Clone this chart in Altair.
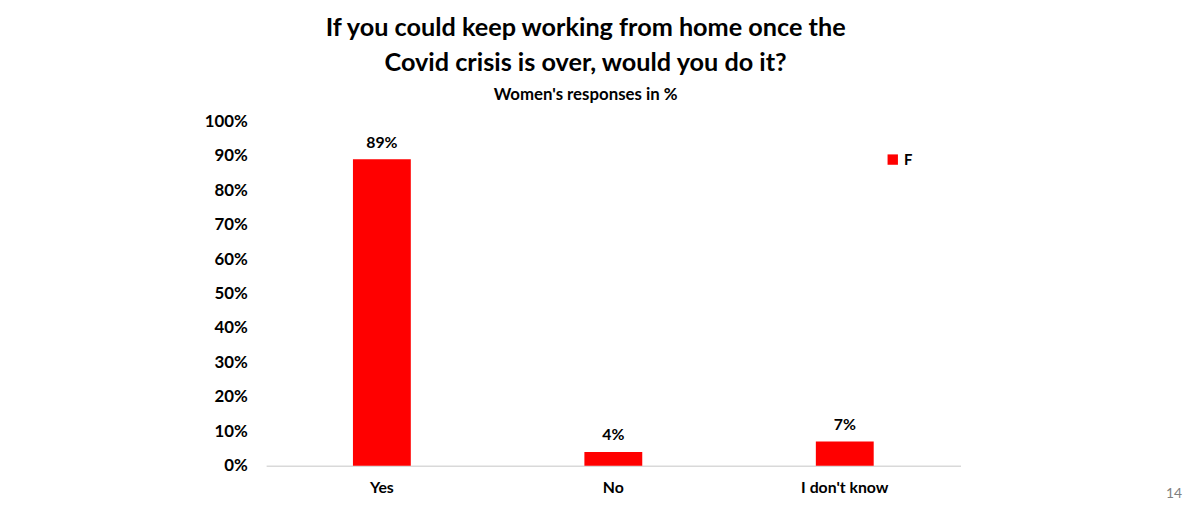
import altair as alt
import pandas as pd

categories = ["Yes", "No", "I don't know"]
values = [89, 4, 7]
series = ["F", "F", "F"]
labels = ["89%", "4%", "7%"]
y_ticks = [0, 10, 20, 30, 40, 50, 60, 70, 80, 90, 100]

df = pd.DataFrame({"answer": categories, "pct": values, "series": series, "label": labels})

FONT = "Lato"

base = alt.Chart(df).encode(
    x=alt.X("answer:N", sort=categories, title=None,
            scale=alt.Scale(paddingInner=0.75, paddingOuter=0.375),
            axis=alt.Axis(labelAngle=0, labelFontSize=16, labelFontWeight="bold",
                          labelColor="#000000", labelPadding=14, ticks=False,
                          domainColor="#d9d9d9", domainWidth=1.5, labelFont=FONT)),
    y=alt.Y("pct:Q", title=None,
            scale=alt.Scale(domain=[0, 100]),
            axis=alt.Axis(values=y_ticks, labelExpr="datum.value + '%'",
                          grid=False, domain=False, ticks=False, labelPadding=19,
                          labelOverlap=False, labelSeparation=0,
                          labelFontSize=17, labelFontWeight="bold", labelColor="#000000",
                          labelFont=FONT)),
)

bars = base.mark_bar(color="#ff0000").encode(
    color=alt.Color("series:N", scale=alt.Scale(range=["#ff0000"]),
                    legend=alt.Legend(title=None, orient="none", legendX=626, legendY=31,
                                      symbolType="square", symbolSize=110,
                                      labelFontSize=15, labelFontWeight="bold",
                                      labelColor="#000000", labelFont=FONT,
                                      symbolStrokeWidth=0)),
)

text = base.mark_text(baseline="bottom", dy=-9, fontSize=16, fontWeight="bold",
                      font=FONT, color="#000000").encode(
    text="label:N",
)

page_num = pd.DataFrame({"t": ["14"]})
pnum = alt.Chart(page_num).mark_text(fontSize=14, color="#7f7f7f", font=FONT,
                                      align="right", baseline="middle").encode(
    x=alt.value(926), y=alt.value(377), text="t:N")

chart = alt.layer(bars, text, pnum).properties(
    width=702, height=348,
    padding={"left": 198, "top": 5, "right": 5, "bottom": 5},
    title=alt.TitleParams(
        text=["If you could keep working from home once the", "Covid crisis is over, would you do it?"],
        subtitle="Women's responses in %",
        fontSize=25.5, fontWeight="bold", font=FONT, color="#000000", lineHeight=35,
        subtitleFontSize=17, subtitleFontWeight="bold", subtitleFont=FONT,
        subtitleColor="#000000", subtitlePadding=11,
        anchor="middle", dx=-28, offset=10),
).configure(background="#ffffff").configure_view(stroke=None)

chart.save("out.html", embed_options={"renderer": "svg", "actions": False})
